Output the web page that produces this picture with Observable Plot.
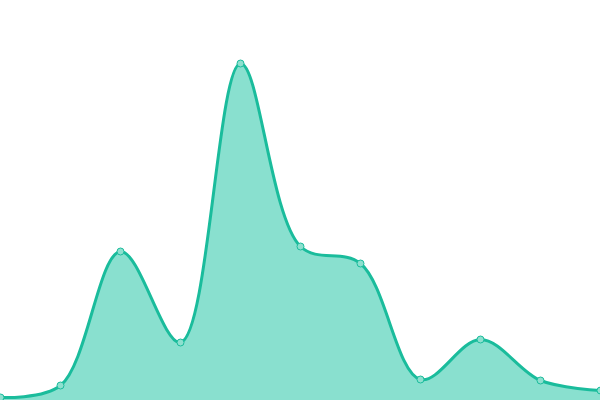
<!DOCTYPE html>
<html><head><meta charset="utf-8">
<script src="https://cdn.jsdelivr.net/npm/d3@7"></script>
<script src="https://cdn.jsdelivr.net/npm/@observablehq/plot@0.6"></script>
<style>body{margin:0;background:#fff}</style>
</head><body><div id="chart"></div>
<script>
const xs = [0, 1, 2, 3, 4, 5, 6, 7, 8, 9, 10];
const values = [3, 15, 149, 58, 337, 154, 137, 21, 61, 20, 10];
const data = xs.map((x, i) => ({x, v: values[i]}));
const chart = Plot.plot({
  width: 600, height: 400,
  margin: 0,
  x: {domain: [0, 10], axis: null},
  y: {domain: [0, 400], axis: null},
  marks: [
    Plot.areaY(data, {x: "x", y: "v", curve: "catmull-rom", fill: "#89e0cf"}),
    Plot.lineY(data, {x: "x", y: "v", curve: "catmull-rom", stroke: "#1abc9c", strokeWidth: 3}),
    Plot.dot(data, {x: "x", y: "v", r: 3.5, fill: "#8ee0cf", stroke: "#1abc9c", strokeWidth: 1})
  ]
});
document.getElementById("chart").append(chart);
</script></body></html>
